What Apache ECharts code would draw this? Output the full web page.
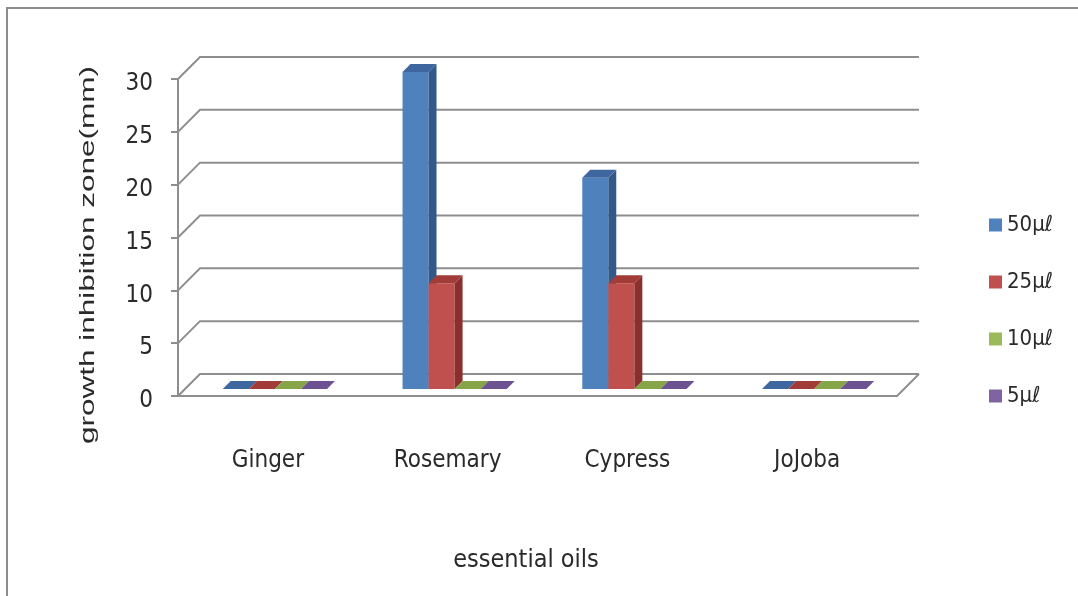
<!DOCTYPE html>
<html>
<head>
<meta charset="utf-8">
<script src="https://cdn.jsdelivr.net/npm/echarts@6/dist/echarts.min.js"></script>
<style>
  html, body { margin: 0; padding: 0; background: #ffffff; }
  #chart { width: 1078px; height: 596px; }
</style>
</head>
<body>
<div id="chart"></div>
<script>
// Essential oils and their inhibition zones (mm) per dose
const categories = ['Ginger', 'Rosemary', 'Cypress', 'JoJoba'];
const dose50 = [0, 30, 20, 0];
const dose25 = [0, 10, 10, 0];
const dose10 = [0, 0, 0, 0];
const dose5 = [0, 0, 0, 0];
const doseNames = ['50μℓ', '25μℓ', '10μℓ', '5μℓ'];
const yTicks = [0, 5, 10, 15, 20, 25, 30];
const xTitle = 'essential oils';
const yTitle = 'growth inhibition zone(mm)';

// Pseudo-3D styling: wall depth and per-series face colours
const DEPTH_X = 22, DEPTH_Y = -22;
const faces = [
  { front: '#4f81bd', side: '#33598a', top: '#3e67a0' },
  { front: '#c0504d', side: '#8a2f2c', top: '#a23c39' },
  { front: '#9bbb59', side: '#6f8a3a', top: '#86a548' },
  { front: '#8064a2', side: '#5a4379', top: '#6c5290' }
];
const NARROW = '"Liberation Sans Narrow", "DejaVu Sans Condensed", "Liberation Sans", sans-serif';
const REGULAR = '"Liberation Sans", Arial, sans-serif';
const TEXT = '#2a2a2a';

function barSeries(name, values, k) {
  return {
    name: name,
    type: 'custom',
    z: 10 + k,
    itemStyle: { color: faces[k].front },
    data: values.map((v, i) => [i, v]),
    encode: { x: 0, y: 1 },
    renderItem: function (params, api) {
      const ci = api.value(0);
      const base = api.coord([ci, 0]);
      const top = api.coord([ci, api.value(1)]);
      const band = api.size([1, 0])[0];
      const w = band * 0.145;
      // bars sit in the middle of the floor depth
      const f0x = DEPTH_X * 0.32, f0y = DEPTH_Y * 0.32;
      const f1x = DEPTH_X * 0.68, f1y = DEPTH_Y * 0.68;
      const x0 = base[0] - 2 * w + k * w + f0x;
      const x1 = x0 + w;
      const yb = base[1] + f0y;
      const yt = top[1] + f0y;
      const dx = f1x - f0x, dy = f1y - f0y;
      const c = faces[k];
      const children = [];
      if (yb - yt > 0.5) {
        children.push({ type: 'polygon', shape: { points: [[x0, yt], [x1, yt], [x1, yb], [x0, yb]] }, style: { fill: c.front } });
        children.push({ type: 'polygon', shape: { points: [[x1, yt], [x1 + dx, yt + dy], [x1 + dx, yb + dy], [x1, yb]] }, style: { fill: c.side } });
      }
      children.push({ type: 'polygon', shape: { points: [[x0, yt], [x1, yt], [x1 + dx, yt + dy], [x0 + dx, yt + dy]] }, style: { fill: c.top } });
      return { type: 'group', children: children };
    }
  };
}

// Back wall gridlines with their diagonal links to the front axis, plus the floor's right edge
const wallSeries = {
  name: 'wall',
  type: 'custom',
  z: 1,
  silent: true,
  data: yTicks.map(v => [0, v]),
  encode: { x: 0, y: 1 },
  renderItem: function (params, api) {
    const cs = params.coordSys;
    const y = api.coord([0, api.value(1)])[1];
    const lineStyle = { stroke: '#8e8e8e', lineWidth: 2, fill: null };
    const children = [{
      type: 'polyline',
      shape: { points: [[cs.x, y], [cs.x + DEPTH_X, y + DEPTH_Y], [cs.x + cs.width + DEPTH_X, y + DEPTH_Y]] },
      style: lineStyle
    }];
    if (api.value(1) === 0) {
      children.push({
        type: 'line',
        shape: { x1: cs.x + cs.width, y1: y, x2: cs.x + cs.width + DEPTH_X, y2: y + DEPTH_Y },
        style: lineStyle
      });
    }
    return { type: 'group', children: children };
  }
};

const chart = echarts.init(document.getElementById('chart'), null, { renderer: 'canvas' });
chart.setOption({
  animation: false,
  backgroundColor: '#ffffff',
  textStyle: { fontFamily: NARROW },
  graphic: [
    {
      type: 'rect',
      shape: { x: 7, y: 8, width: 1100, height: 620 },
      style: { fill: null, stroke: '#8c8c8c', lineWidth: 2 },
      silent: true
    },
    {
      type: 'text',
      x: 88,
      y: 255,
      rotation: Math.PI / 2,
      scaleX: 1.5,
      style: {
        text: yTitle,
        fontSize: 21,
        fontFamily: REGULAR,
        fill: TEXT,
        align: 'center',
        verticalAlign: 'middle'
      },
      silent: true
    },
    {
      type: 'text',
      x: 526,
      y: 560,
      style: {
        text: xTitle,
        fontSize: 25,
        fontFamily: NARROW,
        fill: TEXT,
        align: 'center',
        verticalAlign: 'middle'
      },
      silent: true
    }
  ],
  grid: { left: 178, top: 79, width: 719, height: 317 },
  legend: {
    orient: 'vertical',
    left: 989,
    top: 213,
    padding: 0,
    icon: 'rect',
    itemWidth: 13,
    itemHeight: 13,
    itemGap: 33,
    data: doseNames,
    textStyle: { fontSize: 22, lineHeight: 24, color: TEXT, fontFamily: NARROW }
  },
  xAxis: {
    type: 'category',
    data: categories,
    axisLine: { show: true, lineStyle: { color: '#8e8e8e', width: 2 } },
    axisTick: { show: false },
    axisLabel: { margin: 53, fontSize: 24, color: TEXT },
    splitLine: { show: false }
  },
  yAxis: {
    type: 'value',
    min: 0,
    max: 30,
    interval: 5,
    axisLine: { show: true, lineStyle: { color: '#8e8e8e', width: 2 } },
    axisTick: { show: true, length: 7, lineStyle: { color: '#8e8e8e', width: 2 } },
    axisLabel: {
      margin: 25,
      formatter: '{v|{value}}',
      rich: { v: { fontSize: 24, lineHeight: 24, color: TEXT, fontFamily: NARROW, padding: [10, 0, 0, 0] } }
    },
    splitLine: { show: false }
  },
  series: [
    wallSeries,
    barSeries(doseNames[0], dose50, 0),
    barSeries(doseNames[1], dose25, 1),
    barSeries(doseNames[2], dose10, 2),
    barSeries(doseNames[3], dose5, 3)
  ]
});
</script>
</body>
</html>
